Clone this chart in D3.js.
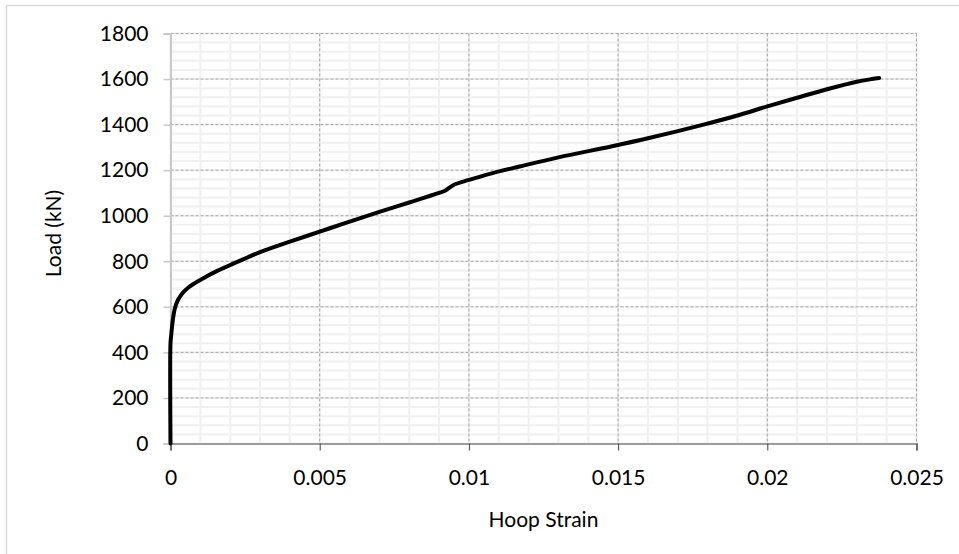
<!DOCTYPE html>
<html>
<head>
<meta charset="utf-8">
<script src="https://cdn.jsdelivr.net/npm/d3@7"></script>
<style>
  body { margin: 0; background: #fff; }
  text { font-family: Lato, "Open Sans", sans-serif; fill: #000; }
</style>
</head>
<body>
<div id="chart-area"></div>
<script>
// hoop strain vs load
var strain = [0, 0, 0.00002, 0.00004, 0.00008, 0.00015, 0.00025, 0.0004, 0.00058, 0.0008,
              0.0011, 0.0016, 0.0022, 0.003, 0.004, 0.005, 0.006, 0.007, 0.008, 0.009,
              0.0092, 0.0095, 0.01, 0.0107, 0.0117, 0.013, 0.0148, 0.016, 0.0178, 0.019,
              0.02, 0.021, 0.022, 0.023, 0.0235, 0.02375];
var load = [0, 440, 470, 498, 545, 595, 630, 660, 683, 703,
            726, 760, 795, 840, 886, 930, 974, 1017, 1058, 1100,
            1110, 1136, 1157, 1184, 1216, 1256, 1305, 1340, 1398, 1440,
            1480, 1518, 1555, 1588, 1600, 1605];

var xTicks = [0, 0.005, 0.01, 0.015, 0.02, 0.025];
var yTicks = [0, 200, 400, 600, 800, 1000, 1200, 1400, 1600, 1800];

var data = strain.map(function(s, i){ return {s: s, l: load[i]}; });

var W = 959, H = 554;
var margin = {top: 33.5, right: 42.5, bottom: 110.5, left: 170.5};
var width = W - margin.left - margin.right;
var height = H - margin.top - margin.bottom;
var fontSize = "21px";

var svg = d3.select("#chart-area")
    .append("svg")
    .attr("width", W)
    .attr("height", H);

// outer chart frame (only left and top are inside the picture)
svg.append("rect")
    .attr("x", 6.5).attr("y", 5.5)
    .attr("width", W + 10).attr("height", H + 10)
    .attr("fill", "none")
    .attr("stroke", "#d9d9d9")
    .attr("stroke-width", 1.5);

var g = svg.append("g")
    .attr("transform", "translate(" + margin.left + ", " + margin.top + ")");

var x = d3.scaleLinear().domain([0, 0.025]).range([0, width]);
var y = d3.scaleLinear().domain([0, 1800]).range([height, 0]);

// minor grid
var xMinor = d3.range(0, 0.02501, 0.001);
var yMinor = d3.range(0, 1801, 40);
g.append("g").selectAll("line").data(yMinor).enter().append("line")
    .attr("x1", 0).attr("x2", width)
    .attr("y1", function(d){ return y(d); })
    .attr("y2", function(d){ return y(d); })
    .attr("stroke", "#f0f0f0").attr("stroke-width", 2);
g.append("g").selectAll("line").data(xMinor).enter().append("line")
    .attr("y1", 0).attr("y2", height)
    .attr("x1", function(d){ return x(d); })
    .attr("x2", function(d){ return x(d); })
    .attr("stroke", "#f0f0f0").attr("stroke-width", 2);

// major grid (dashed)
g.append("g").selectAll("line").data(yTicks.slice(1)).enter().append("line")
    .attr("x1", 0).attr("x2", width)
    .attr("y1", function(d){ return y(d); })
    .attr("y2", function(d){ return y(d); })
    .attr("stroke", "#a6a6a6").attr("stroke-width", 1)
    .attr("stroke-dasharray", "3,2");
g.append("g").selectAll("line").data(xTicks.slice(1)).enter().append("line")
    .attr("y1", 0).attr("y2", height)
    .attr("x1", function(d){ return x(d); })
    .attr("x2", function(d){ return x(d); })
    .attr("stroke", "#a6a6a6").attr("stroke-width", 1)
    .attr("stroke-dasharray", "3,2");

// axes
var yAxis = g.append("g")
    .call(d3.axisLeft(y).tickValues(yTicks).tickSize(7).tickPadding(15).tickFormat(d3.format("d")));
yAxis.select(".domain").attr("stroke", "#c8c8c8").attr("stroke-width", 2);
yAxis.selectAll(".tick line").attr("stroke", "#c8c8c8").attr("stroke-width", 1.5);
yAxis.selectAll("text").attr("font-size", fontSize).attr("font-family", "Lato, sans-serif").attr("fill", "#000");

var xAxis = g.append("g")
    .attr("transform", "translate(0, " + height + ")")
    .call(d3.axisBottom(x).tickValues(xTicks).tickSize(7).tickPadding(20)
        .tickFormat(function(d){ return d === 0 ? "0" : String(+d.toFixed(3)); }));
xAxis.select(".domain").attr("stroke", "#808080").attr("stroke-width", 1.5);
xAxis.selectAll(".tick line").attr("stroke", "#404040").attr("stroke-width", 1);
xAxis.selectAll("text").attr("font-size", fontSize).attr("font-family", "Lato, sans-serif").attr("fill", "#000");

// axis titles
g.append("text")
    .attr("x", width / 2)
    .attr("y", height + 83)
    .attr("font-size", fontSize)
    .attr("text-anchor", "middle")
    .text("Hoop Strain");

g.append("text")
    .attr("x", -(height / 2) + 5)
    .attr("y", -110)
    .attr("font-size", fontSize)
    .attr("text-anchor", "middle")
    .attr("transform", "rotate(-90)")
    .text("Load (kN)");

// curve
var line = d3.line()
    .x(function(d){ return x(d.s); })
    .y(function(d){ return y(d.l); })
    .curve(d3.curveCatmullRom.alpha(0.5));

g.append("path")
    .datum(data)
    .attr("fill", "none")
    .attr("stroke", "#000")
    .attr("stroke-width", 4)
    .attr("stroke-linecap", "round")
    .attr("stroke-linejoin", "round")
    .attr("d", line);
</script>
</body>
</html>
